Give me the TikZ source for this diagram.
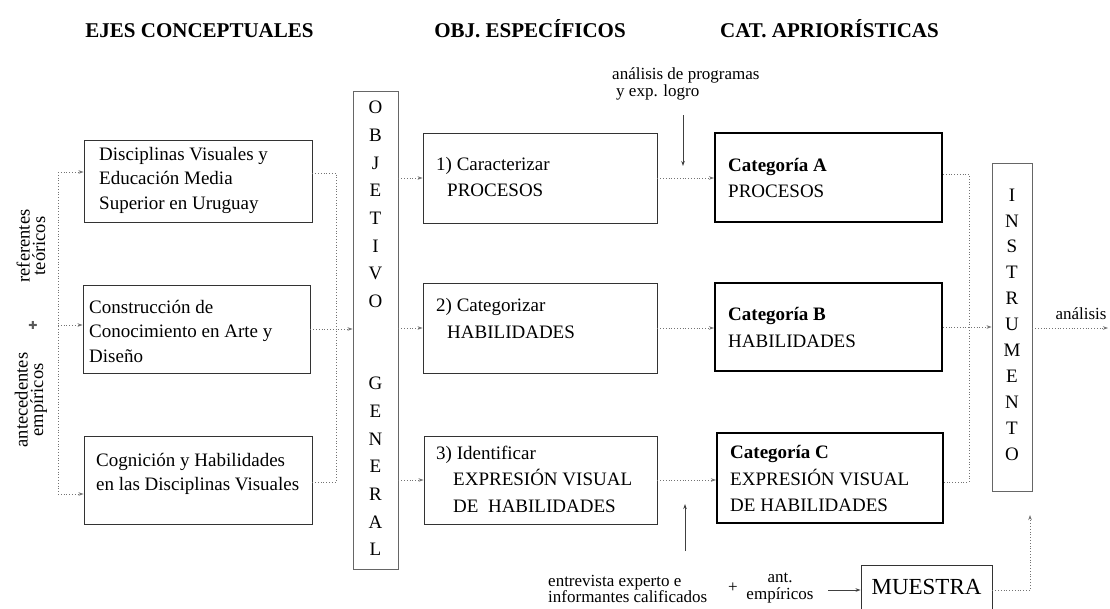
\documentclass[tikz,border=0pt]{standalone}
\usepackage{fontspec}
\setmainfont{Liberation Serif}
\newfontfamily\plusfont{DejaVu Sans}
\usetikzlibrary{arrows.meta}
\tikzset{
  thinbox/.style={draw=black!80, line width=0.9pt, inner sep=0pt},
  catbox/.style={draw=black, line width=2pt, inner sep=0pt},
  vbox/.style={draw=black!60, line width=0.9pt, inner sep=0pt},
  txt/.style={inner sep=0pt, align=left, anchor=west, font=\fontsize{19}{24.5}\selectfont},
  txtb/.style={txt, font=\fontsize{19}{26.5}\selectfont},
  hdr/.style={inner sep=0pt, anchor=base, font=\fontsize{21}{24}\selectfont\bfseries},
  vlet/.style={inner sep=0pt, align=center, font=\fontsize{19}{27.7}\selectfont},
  small/.style={inner sep=0pt, font=\fontsize{17}{16.5}\selectfont},
  rot/.style={inner sep=0pt, rotate=90, align=center, font=\fontsize{18.5}{15.5}\selectfont},
  dotl/.style={draw=black!55, dotted, line width=0.8pt},
  dota/.style={dotl, -{Stealth[length=5pt,width=3.5pt]}},
  sola/.style={draw=black!75, line width=0.9pt, -{Stealth[length=5pt,width=3.5pt]}}
}
\begin{document}
\begin{tikzpicture}[x=1pt,y=-1pt]
\useasboundingbox (0,0) rectangle (1110,608);
% headers
\node[hdr] (h1) at (199.5,37) {EJES CONCEPTUALES};
\node[hdr] (h2) at (530,37) {OBJ. ESPECÍFICOS};
\node[hdr] (h3) at (829.5,37) {CAT. APRIORÍSTICAS};
% left boxes
\node[thinbox, minimum width=228, minimum height=82] (e1) at (198,181) {};
\node[txt] (e1t) at (99,180) {Disciplinas Visuales y\\Educación Media\\Superior en Uruguay};
\node[thinbox, minimum width=227, minimum height=88] (e2) at (196.5,329) {};
\node[txt] (e2t) at (89,331) {Construcción de\\Conocimiento en Arte y\\Diseño};
\node[thinbox, minimum width=228, minimum height=88] (e3) at (198,480) {};
\node[txt] (e3t) at (96,474) {Cognición y Habilidades\\en las Disciplinas Visuales};
% left labels
\node[rot] (rt) at (31,246) {referentes\\teóricos};
\node[inner sep=0pt, text=black!65, font=\plusfont\fontsize{11}{11}\selectfont] (pl) at (33,325) {✚};
\node[rot] (ae) at (31,400) {antecedentes\\empíricos};
\coordinate (lt) at (58,172);
\coordinate (lm) at (58,325);
\coordinate (lb) at (58,494);
\draw[dotl] (lt) -- (lb);
\draw[dota] (lt) -- (lt -| e1.west);
\draw[dota] (lm) -- (lm -| e2.west);
\draw[dota] (lb) -- (lb -| e3.west);
% objetivo general
\node[vbox, minimum width=45, minimum height=478] (og) at (375.5,330) {};
\node[vlet] (og1) at (375.5,204.5) {O\\B\\J\\E\\T\\I\\V\\O};
\node[vlet] (og2) at (375.5,466.5) {G\\E\\N\\E\\R\\A\\L};
\coordinate (c1) at (336,173);
\coordinate (c3) at (336,482);
\draw[dotl] (c1 -| e1.east) -- (c1) -- (c3) -- (c3 -| e3.east);
\draw[dota] (e2.east) -- (e2.east -| og.west);
% obj boxes
\node[thinbox, minimum width=234, minimum height=90] (o1) at (540,178) {};
\node[txtb] (o1t) at (436,177) {1) Caracterizar\\\hspace*{11pt}PROCESOS};
\node[thinbox, minimum width=234, minimum height=90] (o2) at (540,328) {};
\node[txtb] (o2t) at (436,318.5) {2) Categorizar\\\hspace*{11pt}HABILIDADES};
\node[thinbox, minimum width=233, minimum height=88] (o3) at (540.5,480) {};
\node[txtb] (o3t) at (436,479) {3) Identificar\\\hspace*{17pt}EXPRESIÓN VISUAL\\\hspace*{17pt}DE\ \ HABILIDADES};
\draw[dota] (o1.west -| og.east) -- (o1.west);
\draw[dota] (o2.west -| og.east) -- (o2.west);
\draw[dota] (o3.west -| og.east) -- (o3.west);
% cat boxes
\node[catbox, minimum width=227, minimum height=89] (cA) at (828.5,177.5) {};
\node[txtb] (cAt) at (728,178) {\textbf{Categoría A}\\PROCESOS};
\node[catbox, minimum width=227, minimum height=88] (cB) at (828.5,327) {};
\node[txtb] (cBt) at (728,327.5) {\textbf{Categoría B}\\HABILIDADES};
\node[catbox, minimum width=226, minimum height=90] (cC) at (830,478) {};
\node[txtb] (cCt) at (730,478.5) {\textbf{Categoría C}\\EXPRESIÓN VISUAL\\DE HABILIDADES};
\draw[dota] (o1.east) -- (o1.east -| cA.west);
\draw[dota] (o2.east) -- (o2.east -| cB.west);
\draw[dota] (o3.east) -- (o3.east -| cC.west);
% annotations
\node[small, align=left, anchor=west] (ap) at (612,84) {análisis de programas\\\hspace*{4pt}y exp. logro};
\coordinate (ap1) at (683,115);
\coordinate (ap2) at (683,166);
\draw[sola] (ap1) -- (ap2);
\coordinate (en1) at (685,551);
\coordinate (en2) at (685,504);
\draw[sola] (en1) -- (en2);
\node[small, align=left, anchor=west] (en) at (548,589) {entrevista experto e\\informantes calificados};
\node[small] (pl2) at (733,588) {+};
\node[small, align=center] (ant) at (780,588) {ant.\\empíricos};
\node[thinbox, minimum width=131, minimum height=44, font=\fontsize{23}{23}\selectfont] (mu) at (926.5,587) {MUESTRA};
\coordinate (a0) at (828,590);
\draw[sola] (a0) -- (a0 -| mu.west);
% instrumento
\node[vbox, minimum width=40, minimum height=328] (ins) at (1012,327) {};
\node[vlet, font=\fontsize{19}{25.9}\selectfont] (inst) at (1012,324.5) {I\\N\\S\\T\\R\\U\\M\\E\\N\\T\\O};
\coordinate (k1) at (969,174);
\coordinate (k3) at (969,482);
\draw[dotl] (k1 -| cA.east) -- (k1) -- (k3) -- (k3 -| cC.east);
\draw[dota] (cB.east) -- (cB.east -| ins.west);
\node[small] (an) at (1081,314) {análisis};
\coordinate (anx) at (1108,328);
\draw[dota] (ins.east |- anx) -- (anx);
\coordinate (m1) at (1030,590);
\coordinate (m2) at (1030,515);
\draw[dota] (mu.east |- m1) -- (m1) -- (m2);
\end{tikzpicture}
\end{document}
